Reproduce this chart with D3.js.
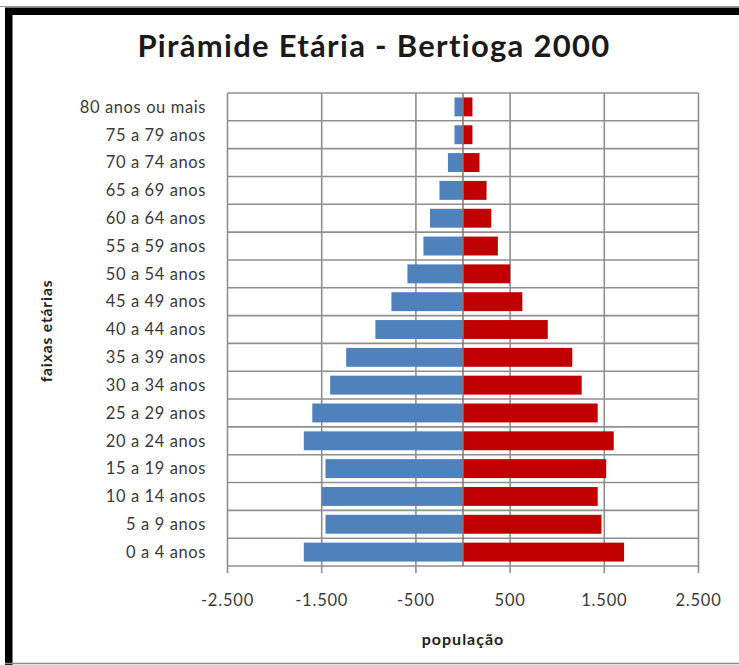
<!DOCTYPE html>
<html>
<head>
<meta charset="utf-8">
<script src="https://cdn.jsdelivr.net/npm/d3@7"></script>
<style>
  body { margin: 0; background: #fff; }
  svg { display: block; }
  .grid line { stroke: #8f8f8f; stroke-width: 1.6; }
</style>
</head>
<body>
<script>
const WIDTH = 739;
const HEIGHT = 665;

// faixas etárias, de baixo para cima
const categories = ["0 a 4 anos", "5 a 9 anos", "10 a 14 anos", "15 a 19 anos", "20 a 24 anos",
  "25 a 29 anos", "30 a 34 anos", "35 a 39 anos", "40 a 44 anos", "45 a 49 anos",
  "50 a 54 anos", "55 a 59 anos", "60 a 64 anos", "65 a 69 anos", "70 a 74 anos",
  "75 a 79 anos", "80 anos ou mais"];
const homens = [1690, 1460, 1500, 1460, 1690, 1600, 1410, 1240, 930, 760, 590, 420, 350, 250, 160, 90, 90];
const mulheres = [1710, 1470, 1430, 1520, 1600, 1430, 1260, 1160, 900, 630, 500, 370, 300, 250, 175, 100, 100];
const xTicks = [-2500, -1500, -500, 500, 1500, 2500];

const plot = { left: 227.5, right: 698.5, top: 93, bottom: 566 };

const locale = d3.formatLocale({ decimal: ",", thousands: ".", grouping: [3], currency: ["R$", ""], minus: "-" });
const fmt = locale.format(",d");

const svg = d3.select("body")
              .append("svg")
              .attr("width", WIDTH)
              .attr("height", HEIGHT);

// moldura
svg.append("rect").attr("x", 0).attr("y", 0).attr("width", WIDTH).attr("height", HEIGHT).attr("fill", "#fff");
svg.append("line").attr("x1", 0).attr("x2", WIDTH).attr("y1", 6.5).attr("y2", 6.5)
   .attr("stroke", "#999").attr("stroke-width", 1);
svg.append("path")
   .attr("d", `M8.75,${HEIGHT} V11.25 H${WIDTH}`)
   .attr("fill", "none").attr("stroke", "#000").attr("stroke-width", 7.5);
svg.append("line").attr("x1", 5).attr("x2", WIDTH).attr("y1", 663.5).attr("y2", 663.5)
   .attr("stroke", "#8a8a8a").attr("stroke-width", 1.5);

const x = d3.scaleLinear().domain([-2500, 2500]).range([plot.left, plot.right]);
const row = d3.scaleBand().domain(categories.slice().reverse()).range([plot.top, plot.bottom]).padding(0);
const barH = row.bandwidth() * 0.68;

// grade
const grid = svg.append("g").attr("class", "grid");
grid.selectAll("line.h")
    .data(d3.range(categories.length + 1))
    .enter().append("line")
    .attr("class", "h")
    .attr("x1", plot.left).attr("x2", plot.right)
    .attr("y1", i => plot.top + i * row.step())
    .attr("y2", i => plot.top + i * row.step());

grid.selectAll("line.v")
    .data(xTicks)
    .enter().append("line")
    .attr("class", "v")
    .attr("x1", d => x(d)).attr("x2", d => x(d))
    .attr("y1", plot.top).attr("y2", plot.bottom + 7);

// barras
const rows = categories.map((c, i) => ({ cat: c, h: homens[i], m: mulheres[i] }));
const y = d => row(d.cat) + (row.bandwidth() - barH) / 2;

svg.selectAll("rect.homens")
   .data(rows)
   .enter().append("rect")
   .attr("class", "homens")
   .attr("x", d => x(-d.h))
   .attr("width", d => x(0) - x(-d.h))
   .attr("y", y)
   .attr("height", barH)
   .attr("fill", "#4F81BD");

svg.selectAll("rect.mulheres")
   .data(rows)
   .enter().append("rect")
   .attr("class", "mulheres")
   .attr("x", x(0))
   .attr("width", d => x(d.m) - x(0))
   .attr("y", y)
   .attr("height", barH)
   .attr("fill", "#C00000");

// eixo vertical no zero
svg.append("line")
   .attr("x1", x(0)).attr("x2", x(0))
   .attr("y1", plot.top).attr("y2", plot.bottom)
   .attr("stroke", "#8f6f6f").attr("stroke-width", 1.5);

// rótulos das faixas
svg.selectAll("text.cat")
   .data(categories)
   .enter().append("text")
   .attr("class", "cat")
   .attr("x", 206)
   .attr("y", d => row(d) + row.bandwidth() / 2)
   .attr("dy", "0.35em")
   .attr("text-anchor", "end")
   .attr("font-family", "Lato, sans-serif")
   .attr("font-size", 16.5)
   .attr("letter-spacing", 0.6)
   .attr("fill", "#3a3a3a")
   .text(d => d);

// rótulos do eixo x
svg.selectAll("text.tick")
   .data(xTicks)
   .enter().append("text")
   .attr("class", "tick")
   .attr("x", d => x(d))
   .attr("y", 606)
   .attr("text-anchor", "middle")
   .attr("font-family", "Lato, sans-serif")
   .attr("font-size", 16.5)
   .attr("letter-spacing", 0.8)
   .attr("fill", "#3a3a3a")
   .text(d => fmt(d));

// títulos
svg.append("text")
   .attr("x", 374).attr("y", 57)
   .attr("text-anchor", "middle")
   .attr("font-family", "Lato, sans-serif")
   .attr("font-weight", "bold")
   .attr("font-size", 31)
   .attr("letter-spacing", 1.3)
   .attr("fill", "#1a1a1a")
   .text("Pirâmide Etária - Bertioga 2000");

svg.append("text")
   .attr("x", 463).attr("y", 645)
   .attr("text-anchor", "middle")
   .attr("font-family", "Lato, sans-serif")
   .attr("font-weight", "bold")
   .attr("font-size", 16)
   .attr("letter-spacing", 1)
   .attr("fill", "#222")
   .text("população");

svg.append("text")
   .attr("transform", "translate(52,331) rotate(-90)")
   .attr("text-anchor", "middle")
   .attr("font-family", "Lato, sans-serif")
   .attr("font-weight", "bold")
   .attr("font-size", 15.5)
   .attr("letter-spacing", 0.9)
   .attr("fill", "#222")
   .text("faixas etárias");
</script>
</body>
</html>
